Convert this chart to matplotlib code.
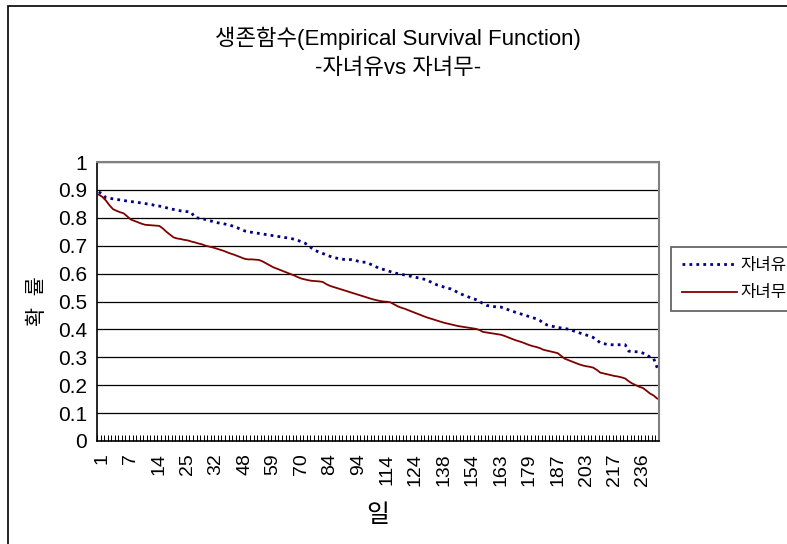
import matplotlib
matplotlib.use("Agg")
import numpy as np
import matplotlib.pyplot as plt
from matplotlib.patches import Rectangle

plt.rcParams['font.family'] = ['Liberation Sans', 'Noto Sans CJK KR', 'DejaVu Sans']

# day labels shown on the category axis (every 8th category)
day_labels = [1, 7, 14, 25, 32, 48, 59, 70, 84, 94, 114, 124, 138, 154, 163, 179, 187, 203, 217, 236]
label_every = 8

# empirical survival, with children (자녀유)
with_children = [
    0.893, 0.885, 0.872, 0.870, 0.868, 0.866, 0.864, 0.862, 0.860, 0.858,
    0.857, 0.855, 0.853, 0.851, 0.849, 0.847, 0.843, 0.842, 0.840, 0.836,
    0.833, 0.830, 0.827, 0.825, 0.823, 0.822, 0.820, 0.801, 0.799, 0.797,
    0.794, 0.790, 0.787, 0.783, 0.781, 0.779, 0.776, 0.773, 0.769, 0.764,
    0.758, 0.753, 0.750, 0.748, 0.746, 0.744, 0.742, 0.740, 0.738, 0.736,
    0.734, 0.732, 0.730, 0.728, 0.726, 0.723, 0.719, 0.714, 0.709, 0.700,
    0.690, 0.682, 0.677, 0.672, 0.667, 0.662, 0.658, 0.655, 0.652, 0.651,
    0.651, 0.650, 0.648, 0.644, 0.641, 0.641, 0.636, 0.630, 0.624, 0.618,
    0.615, 0.611, 0.607, 0.603, 0.600, 0.598, 0.595, 0.592, 0.590, 0.587,
    0.584, 0.581, 0.579, 0.572, 0.566, 0.560, 0.556, 0.552, 0.548, 0.545,
    0.539, 0.532, 0.526, 0.521, 0.516, 0.511, 0.507, 0.500, 0.493, 0.486,
    0.484, 0.482, 0.480, 0.480, 0.476, 0.471, 0.466, 0.462, 0.458, 0.454,
    0.450, 0.446, 0.442, 0.438, 0.432, 0.423, 0.416, 0.412, 0.410, 0.407,
    0.405, 0.403, 0.401, 0.397, 0.392, 0.388, 0.384, 0.380, 0.376, 0.371,
    0.362, 0.352, 0.349, 0.346, 0.345, 0.345, 0.345, 0.345, 0.345, 0.322,
    0.321, 0.320, 0.319, 0.315, 0.310, 0.300, 0.296, 0.262,
]

# empirical survival, without children (자녀무)
without_children = [
    0.883, 0.875, 0.862, 0.845, 0.831, 0.825, 0.820, 0.816, 0.805, 0.794,
    0.789, 0.784, 0.779, 0.775, 0.774, 0.773, 0.772, 0.771, 0.762, 0.750,
    0.740, 0.730, 0.726, 0.724, 0.721, 0.719, 0.715, 0.712, 0.708, 0.705,
    0.700, 0.697, 0.694, 0.690, 0.686, 0.682, 0.677, 0.672, 0.668, 0.663,
    0.658, 0.653, 0.651, 0.651, 0.650, 0.649, 0.644, 0.637, 0.630, 0.623,
    0.618, 0.613, 0.608, 0.603, 0.598, 0.593, 0.587, 0.582, 0.579, 0.576,
    0.574, 0.573, 0.572, 0.570, 0.562, 0.556, 0.552, 0.548, 0.544, 0.540,
    0.536, 0.532, 0.528, 0.524, 0.520, 0.516, 0.512, 0.508, 0.505, 0.502,
    0.500, 0.499, 0.497, 0.490, 0.483, 0.478, 0.474, 0.469, 0.464, 0.459,
    0.454, 0.449, 0.444, 0.440, 0.436, 0.432, 0.428, 0.424, 0.421, 0.418,
    0.415, 0.412, 0.410, 0.408, 0.406, 0.404, 0.402, 0.398, 0.391, 0.389,
    0.387, 0.385, 0.383, 0.381, 0.377, 0.372, 0.367, 0.362, 0.358, 0.354,
    0.349, 0.344, 0.340, 0.337, 0.333, 0.327, 0.324, 0.321, 0.318, 0.315,
    0.305, 0.295, 0.290, 0.285, 0.280, 0.275, 0.271, 0.268, 0.266, 0.263,
    0.255, 0.245, 0.242, 0.239, 0.236, 0.233, 0.231, 0.228, 0.224, 0.214,
    0.206, 0.200, 0.194, 0.190, 0.180, 0.170, 0.163, 0.152,
]

y_ticks = [0, 0.1, 0.2, 0.3, 0.4, 0.5, 0.6, 0.7, 0.8, 0.9, 1]
y_tick_labels = ['0', '0.1', '0.2', '0.3', '0.4', '0.5', '0.6', '0.7', '0.8', '0.9', '1']

W, H = 787, 544
fig = plt.figure(figsize=(W / 100, H / 100), dpi=100)
fig.patch.set_facecolor('white')

# chart area border (Excel style)
fig.add_artist(Rectangle((8 / W, -0.05), 1.0, 1 - 6 / H + 0.05, transform=fig.transFigure,
                         fill=False, edgecolor='black', lw=1.2))

ax = fig.add_axes([97 / W, 1 - 441 / H, 562 / W, 279 / H])
n = len(with_children)
x = np.arange(n)
ax.plot(x, with_children, color='#000080', lw=2.0, ls=(0, (1, 1.5)), label='자녀유')
ax.plot(x, without_children, color='#800000', lw=1.3, label='자녀무')

ax.set_xlim(-0.5, n - 0.5)
ax.set_ylim(0, 1)
ax.set_yticks(y_ticks)
ax.set_yticklabels(y_tick_labels, fontsize=15)
ax.yaxis.grid(True, color='black', lw=0.9)
ax.set_axisbelow(True)
ax.tick_params(axis='y', length=0, pad=7)

ax.set_xticks(np.arange(0, n, label_every)[:len(day_labels)] + 1)
ax.set_xticklabels(day_labels, rotation=90, fontsize=14)
ax.set_xticks(np.arange(-0.5, n, 1), minor=True)
ax.tick_params(axis='x', which='major', length=0, pad=9)
ax.tick_params(axis='x', which='minor', direction='in', length=4.5, width=0.7, color='black')

for side in ['top', 'right']:
    ax.spines[side].set_color('#808080')
    ax.spines[side].set_linewidth(1.5)
for side in ['left', 'bottom']:
    ax.spines[side].set_color('black')
    ax.spines[side].set_linewidth(1.2)

ax.set_ylabel('확  률', fontsize=15, labelpad=8)
ax.set_xlabel('일', fontsize=18, labelpad=12)

fig.text(398 / W, 1 - 38 / H, '생존함수(Empirical Survival Function)', ha='center', va='center', fontsize=16)
fig.text(398 / W, 1 - 68 / H, '-자녀유vs 자녀무-', ha='center', va='center', fontsize=16)

leg = fig.legend(loc='upper left', bbox_to_anchor=(671 / W, 1 - 247 / H), frameon=True, fancybox=False,
                 edgecolor='#404040', fontsize=12, handlelength=3.3, handletextpad=0.2,
                 borderpad=0.65, labelspacing=0.75, borderaxespad=0)
leg.get_frame().set_linewidth(1.3)

fig.savefig('out.png', dpi=100, facecolor='white')
